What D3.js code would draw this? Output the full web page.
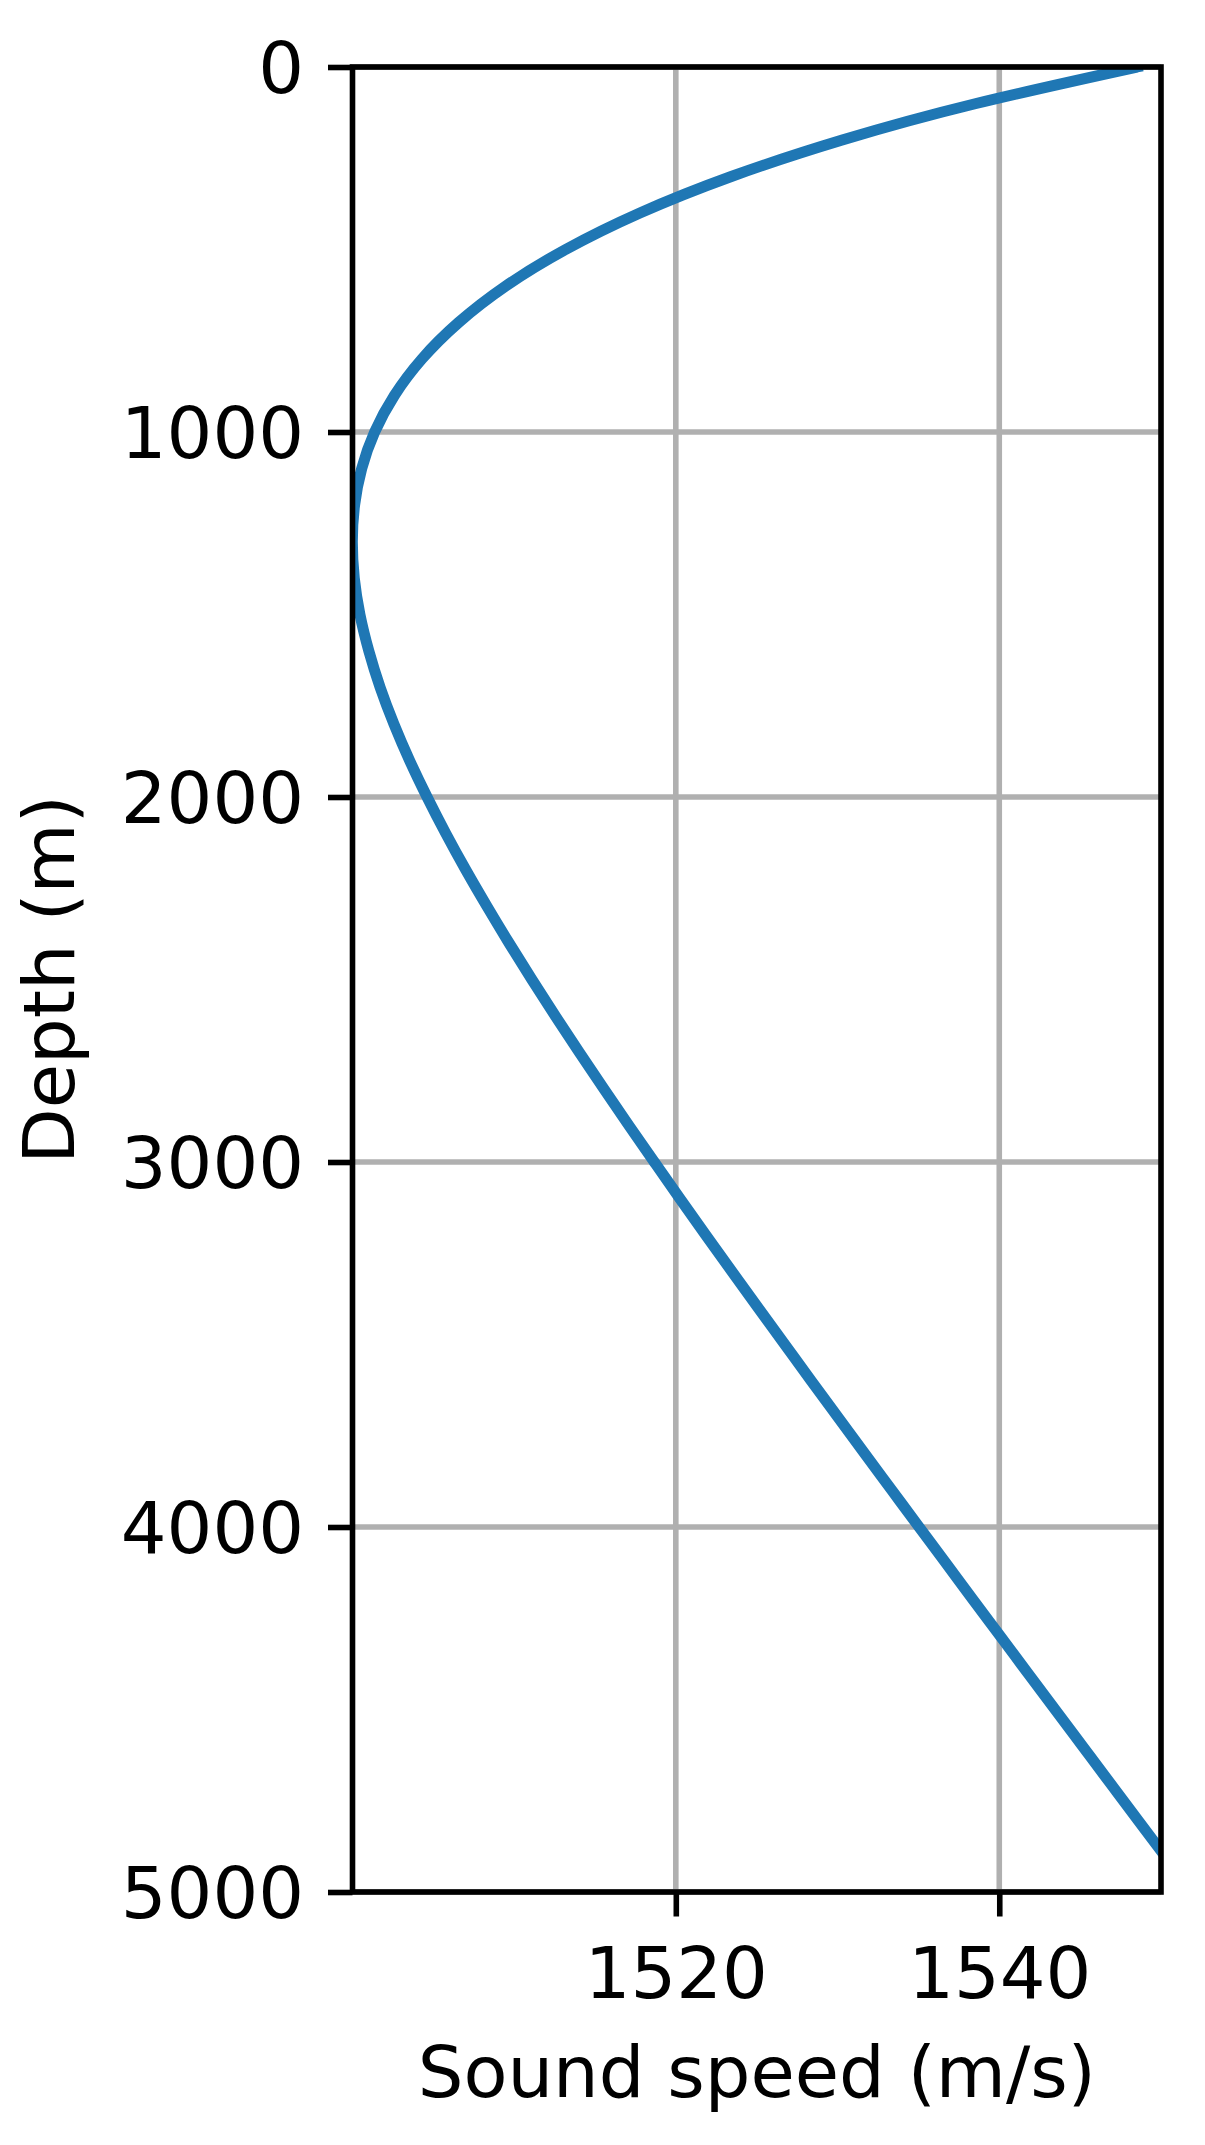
<!DOCTYPE html>
<html>
<head>
<meta charset="utf-8">
<script src="https://cdn.jsdelivr.net/npm/d3@7"></script>
<style>
  html, body { margin: 0; padding: 0; background: #fff; }
  svg { display: block; }
  text { font-family: "DejaVu Sans", sans-serif; fill: #000; }
</style>
</head>
<body>
<svg id="chart" width="1205" height="2145"></svg>
<script>
// Depth (m) and sound speed (m/s)
const depths = [0, 100, 200, 300, 400, 500, 600, 700, 800, 900, 1000, 1100, 1200, 1300,
  1400, 1500, 1600, 1700, 1800, 1900, 2000, 2100, 2200, 2300, 2400, 2500, 2600, 2700,
  2800, 2900, 3000, 3100, 3200, 3300, 3400, 3500, 3600, 3700, 3800, 3900, 4000, 4100,
  4200, 4300, 4400, 4500, 4600, 4700, 4800, 4900, 5000];
const speeds = [1548.52, 1538.57, 1530.29, 1523.43, 1517.78, 1513.19, 1509.49, 1506.57,
  1504.30, 1502.60, 1501.38, 1500.58, 1500.14, 1500.00, 1500.12, 1500.47, 1501.02,
  1501.72, 1502.57, 1503.54, 1504.62, 1505.78, 1507.02, 1508.33, 1509.69, 1511.10,
  1512.55, 1514.04, 1515.56, 1517.10, 1518.67, 1520.25, 1521.85, 1523.47, 1525.10,
  1526.74, 1528.38, 1530.04, 1531.70, 1533.37, 1535.04, 1536.72, 1538.39, 1540.08,
  1541.76, 1543.45, 1545.14, 1546.83, 1548.52, 1550.22, 1551.91];
const xTicks = [1520, 1540];
const yTicks = [0, 1000, 2000, 3000, 4000, 5000];
const xLabel = "Sound speed (m/s)";
const yLabel = "Depth (m)";

(function () {
const L = 352.5, R = 1161, T = 67, B = 1892;
const fs = 72;

const svg = d3.select("#chart");
const x = d3.scaleLinear().domain([1500.01, 1550]).range([L, R]);
const y = d3.scaleLinear().domain([0, 5000]).range([T, B]);

// grid
const grid = svg.append("g");
grid.selectAll("line.gx").data(xTicks).join("line")
  .attr("class", "gx")
  .attr("x1", d => x(d)).attr("x2", d => x(d))
  .attr("y1", T).attr("y2", B)
  .attr("stroke", "#b0b0b0").attr("stroke-width", 5.6);
grid.selectAll("line.gy").data(yTicks).join("line")
  .attr("class", "gy")
  .attr("y1", d => y(d)).attr("y2", d => y(d))
  .attr("x1", L).attr("x2", R)
  .attr("stroke", "#b0b0b0").attr("stroke-width", 5.6);

// clip
svg.append("clipPath").attr("id", "clip").append("rect")
  .attr("x", L).attr("y", T).attr("width", R - L).attr("height", B - T);

const data = depths.map((d, i) => ({ z: d, c: speeds[i] }));
const line = d3.line().x(d => x(d.c)).y(d => y(d.z)).curve(d3.curveNatural);
svg.append("path").datum(data)
  .attr("d", line)
  .attr("clip-path", "url(#clip)")
  .attr("fill", "none").attr("stroke", "#1f77b4").attr("stroke-width", 11)
  .attr("stroke-linecap", "square");

// axes
const xAxis = d3.axisBottom(x).tickValues(xTicks).tickSize(24.5).tickPadding(24).tickFormat(d3.format("d"));
const yAxis = d3.axisLeft(y).tickValues(yTicks).tickSize(24.5).tickPadding(24).tickFormat(d3.format("d"));

const gx = svg.append("g").attr("transform", `translate(0,${B})`).call(xAxis);
const gy = svg.append("g").attr("transform", `translate(${L},0)`).call(yAxis);
[gx, gy].forEach(g => {
  g.select(".domain").remove();
  g.selectAll(".tick line").attr("stroke", "#000").attr("stroke-width", 5.6);
  g.selectAll(".tick text").attr("font-size", fs).attr("font-family", "DejaVu Sans").attr("fill", "#000");
});
gx.selectAll(".tick text").attr("dy", null).attr("y", 106);
gy.selectAll(".tick text").attr("dy", "0.36em");

// spines
svg.append("rect")
  .attr("x", L).attr("y", T).attr("width", R - L).attr("height", B - T)
  .attr("fill", "none").attr("stroke", "#000").attr("stroke-width", 5.6)
  .attr("stroke-linejoin", "miter");

// labels
svg.append("text")
  .attr("x", (L + R) / 2).attr("y", 2097)
  .attr("text-anchor", "middle").attr("font-size", fs)
  .text(xLabel);
svg.append("text")
  .attr("transform", `translate(74,${(T + B) / 2}) rotate(-90)`)
  .attr("text-anchor", "middle").attr("font-size", fs)
  .text(yLabel);
})();
</script>
</body>
</html>
